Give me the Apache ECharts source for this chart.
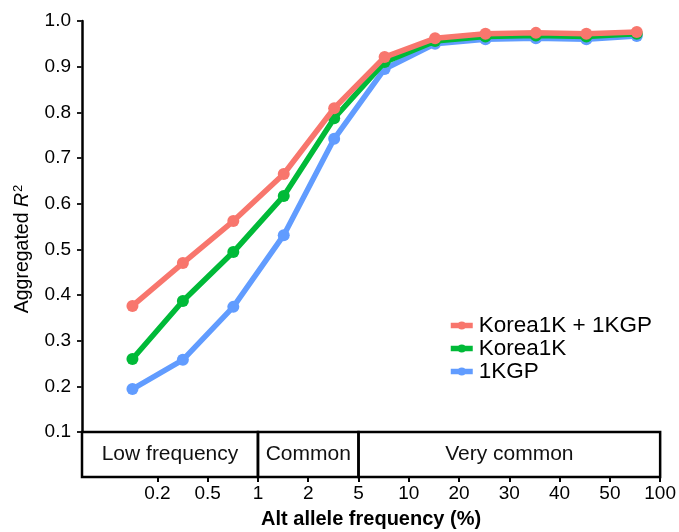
<!DOCTYPE html>
<html><head><meta charset="utf-8">
<script src="https://cdn.jsdelivr.net/npm/echarts@6/dist/echarts.min.js"></script>
<style>html,body{margin:0;padding:0;background:#fff}#c{width:679px;height:532px}</style>
</head><body><div id="c"></div>
<script>
// Data
var tickLabels = ['0.2','0.5','1','2','5','10','20','30','40','50','100'];
var seriesNames = ['Korea1K + 1KGP','Korea1K','1KGP'];
var korea1k1kgp = [0.376, 0.470, 0.562, 0.665, 0.809, 0.921, 0.962, 0.972, 0.974, 0.972, 0.976];
var korea1k     = [0.260, 0.387, 0.494, 0.617, 0.787, 0.910, 0.956, 0.966, 0.968, 0.966, 0.972];
var kgp1        = [0.194, 0.258, 0.374, 0.531, 0.742, 0.895, 0.950, 0.960, 0.962, 0.960, 0.967];
var bandLabels = ['Low frequency','Common','Very common'];
var bandStart  = [0, 3.5, 5.5];
var bandEnd    = [3.5, 5.5, 11.5];

var FONT = 'Liberation Sans, Arial, sans-serif';
var tickPos = tickLabels.map(function(_, i){ return i + 1.5; });
function pts(arr){ return arr.map(function(v, i){ return [i + 1, v]; }); }

var chart = echarts.init(document.getElementById('c'));
var colors = {'Korea1K + 1KGP':'#F8766D','Korea1K':'#00BA38','1KGP':'#619CFF'};
function lineSeries(name, arr, z){
  return {
    name: name, type: 'line', xAxisIndex: 0, yAxisIndex: 0,
    data: pts(arr), symbol: 'circle', symbolSize: 12, z: z,
    lineStyle: {width: 5.5, color: colors[name]},
    itemStyle: {color: colors[name]},
    animation: false
  };
}
var bandData = bandLabels.map(function(l, i){ return [bandStart[i], bandEnd[i], l]; });

chart.setOption({
  animation: false,
  textStyle: {fontFamily: FONT},
  grid: [
    {left: 82, top: 21, width: 580, height: 411},
    {left: 82, top: 432, width: 580, height: 45},
    {left: 82, top: 21, width: 580, height: 456}
  ],
  xAxis: [
    {gridIndex: 0, type: 'value', min: 0, max: 11.5, show: false},
    {gridIndex: 1, type: 'value', min: 0, max: 11.5,
     axisLine: {show: false}, splitLine: {show: false},
     axisTick: {show: true, customValues: tickPos, length: 5, lineStyle: {color: '#000', width: 2}},
     axisLabel: {show: true, customValues: tickPos, margin: 7, fontSize: 19, color: '#000', fontFamily: FONT,
       formatter: function(v){ var i = Math.round(v - 1.5); return tickLabels[i]; }},
     name: 'Alt allele frequency (%)', nameLocation: 'middle', nameGap: 32,
     nameTextStyle: {fontSize: 20, fontWeight: 'bold', color: '#000', fontFamily: FONT}
    },
    {gridIndex: 2, type: 'value', min: 0, max: 1, show: false}
  ],
  yAxis: [
    {gridIndex: 0, type: 'value', min: 0.1, max: 1.0, interval: 0.1,
     axisLine: {show: true, lineStyle: {color: '#000', width: 2.5}},
     axisTick: {show: true, length: 5, lineStyle: {color: '#222', width: 2}},
     splitLine: {show: false},
     axisLabel: {fontSize: 19, color: '#000', margin: 11, fontFamily: FONT,
       formatter: function(v){ return v.toFixed(1); }}
    },
    {gridIndex: 1, type: 'value', min: 0, max: 1, show: false},
    {gridIndex: 2, type: 'value', min: 0, max: 1,
     axisLine: {show: false}, axisTick: {show: false}, axisLabel: {show: false}, splitLine: {show: false},
     name: '{a|Aggregated }{i|R}{s|2}', nameLocation: 'middle', nameGap: 48,
     nameTextStyle: {color: '#000', fontFamily: FONT,
       rich: {
         a: {fontSize: 19.5, color: '#000', fontFamily: FONT, lineHeight: 22},
         i: {fontSize: 19.5, fontStyle: 'italic', color: '#000', fontFamily: FONT, lineHeight: 22},
         s: {fontSize: 13, color: '#000', fontFamily: FONT, lineHeight: 22, verticalAlign: 'top', padding: [0,0,10,1]}
       }}
    }
  ],
  legend: {
    orient: 'vertical', left: 443, top: 309,
    data: seriesNames,
    itemWidth: 22, itemHeight: 10, itemGap: 0,
    textStyle: {fontSize: 22.5, color: '#000', fontFamily: FONT, padding: [0,0,0,1], lineHeight: 22.5},
    lineStyle: {width: 5.5}
  },
  series: [
    lineSeries('1KGP', kgp1, 3),
    lineSeries('Korea1K', korea1k, 4),
    lineSeries('Korea1K + 1KGP', korea1k1kgp, 5),
    {
      type: 'custom', xAxisIndex: 1, yAxisIndex: 1, data: bandData, silent: true,
      renderItem: function(params, api){
        var p0 = api.coord([api.value(0), 1]);
        var p1 = api.coord([api.value(1), 0]);
        return {
          type: 'group',
          children: [
            {type: 'rect', shape: {x: p0[0], y: p0[1], width: p1[0]-p0[0], height: p1[1]-p0[1]},
             style: {fill: 'none', stroke: '#000', lineWidth: 2.5}},
            {type: 'text', x: (p0[0]+p1[0])/2, y: (p0[1]+p1[1])/2,
             style: {text: bandLabels[params.dataIndex], fill: '#111', font: '21px ' + FONT, align: 'center', verticalAlign: 'middle'}}
          ]
        };
      }
    }
  ]
});
</script></body></html>
